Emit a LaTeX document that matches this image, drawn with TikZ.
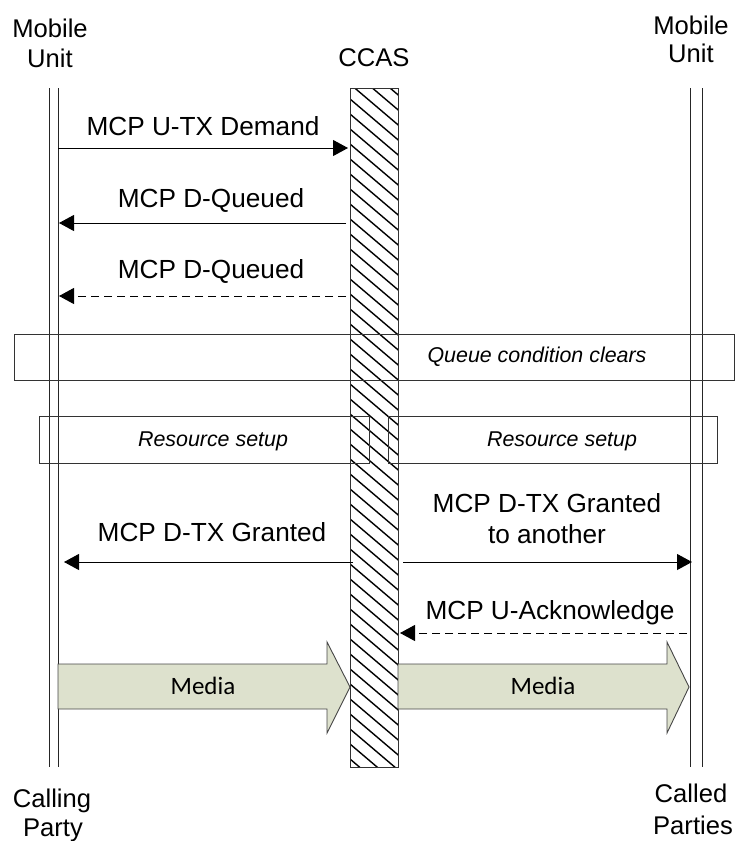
\documentclass[tikz,border=0pt]{standalone}
\usepackage{fontspec}
\setmainfont{Liberation Sans}
\newfontfamily\mediafont{Carlito}
\usetikzlibrary{arrows.meta}
\definecolor{mediafill}{RGB}{221,225,205}
\definecolor{mediaedge}{RGB}{70,70,70}
\begin{document}
\begin{tikzpicture}[x=1pt,y=-1pt,
  lbl/.style={font=\fontsize{26.2}{30}\selectfont, anchor=base, inner sep=0pt},
  hdr/.style={font=\fontsize{25.6}{30}\selectfont, anchor=base, inner sep=0pt},
  itl/.style={font=\fontsize{21.4}{25}\selectfont\itshape, anchor=base, inner sep=0pt},
  medialbl/.style={font=\mediafont\fontsize{25}{30}\selectfont, anchor=base, inner sep=0pt},
  lifeline/.style={line width=1pt, black!85},
  msg/.style={line width=1pt, -{Triangle[length=15pt,width=16pt]}},
  dmsg/.style={msg, dash pattern=on 8pt off 5pt},
  framebox/.style={draw=black!80, line width=0.9pt},
  mediaarrow/.style={fill=mediafill, draw=mediaedge, line width=0.9pt}
]
\useasboundingbox (0,0) rectangle (734,841);

% headers
\node[hdr] (mu1a) at (50,37) {Mobile};
\node[hdr] (mu1b) at (50,67) {Unit};
\node[hdr] (ccas) at (374,66) {CCAS};
\node[hdr] (mu2a) at (691,34) {Mobile};
\node[hdr] (mu2b) at (691,62) {Unit};
\node[hdr] (cp1) at (52,807) {Calling};
\node[hdr] (cp2) at (53,836) {Party};
\node[hdr] (cd1) at (691,802) {Called};
\node[hdr] (cd2) at (693,834) {Parties};

% lifelines
\draw[lifeline] (49,88) -- (49,767);
\draw[lifeline] (58,88) -- (58,767);
\draw[lifeline] (690,88) -- (690,767);
\draw[lifeline] (702,88) -- (702,767);

% CCAS hatched bar
\begin{scope}
  \clip (350,88) rectangle (398,767);
  \foreach \k in {-5,...,48}
    \draw[line width=1.4pt] (350,{84+\k*15}) -- (410,{135+\k*15});
\end{scope}
\draw[line width=0.9pt, black!80] (350,88) rectangle (398,767);

% frames
\draw[framebox] (14,334) rectangle (734,380);
\node[itl] (qc) at (537,362) {Queue condition clears};
\draw[framebox] (39,416) rectangle (369,463);
\node[itl] (rs1) at (213,446) {Resource setup};
\draw[framebox] (388,416) rectangle (717,463);
\node[itl] (rs2) at (562,446) {Resource setup};

% messages
\coordinate (m1s) at (58,148);  \coordinate (m1e) at (348,148);
\draw[msg] (m1s) -- (m1e);
\node[lbl] (m1l) at (203,135) {MCP U-TX Demand};

\coordinate (m2s) at (346,223); \coordinate (m2e) at (59,223);
\draw[msg] (m2s) -- (m2e);
\node[lbl] (m2l) at (211,207) {MCP D-Queued};

\coordinate (m3s) at (346,296); \coordinate (m3e) at (59,296);
\draw[dmsg] (m3s) -- (m3e);
\node[lbl] (m3l) at (211,278) {MCP D-Queued};

\coordinate (m4s) at (353,562); \coordinate (m4e) at (64,562);
\draw[msg] (m4s) -- (m4e);
\node[lbl] (m4l) at (212,541) {MCP D-TX Granted};

\coordinate (m5s) at (403,562); \coordinate (m5e) at (692,562);
\draw[msg] (m5s) -- (m5e);
\node[lbl] (m5l) at (547,512) {MCP D-TX Granted};
\node[lbl] (m5m) at (547,543) {to another};

\coordinate (m6s) at (687,633); \coordinate (m6e) at (400,633);
\draw[dmsg] (m6s) -- (m6e);
\node[lbl] (m6l) at (550,619) {MCP U-Acknowledge};

% media arrows
\draw[mediaarrow] (58,664) -- (327,664) -- (327,642) -- (350,687) -- (327,733) -- (327,709) -- (58,709) -- cycle;
\node[medialbl] (med1) at (203,694) {Media};
\draw[mediaarrow] (398,664) -- (667,664) -- (667,642) -- (689,687) -- (667,733) -- (667,709) -- (398,709) -- cycle;
\node[medialbl] (med2) at (543,694) {Media};
\end{tikzpicture}
\end{document}
